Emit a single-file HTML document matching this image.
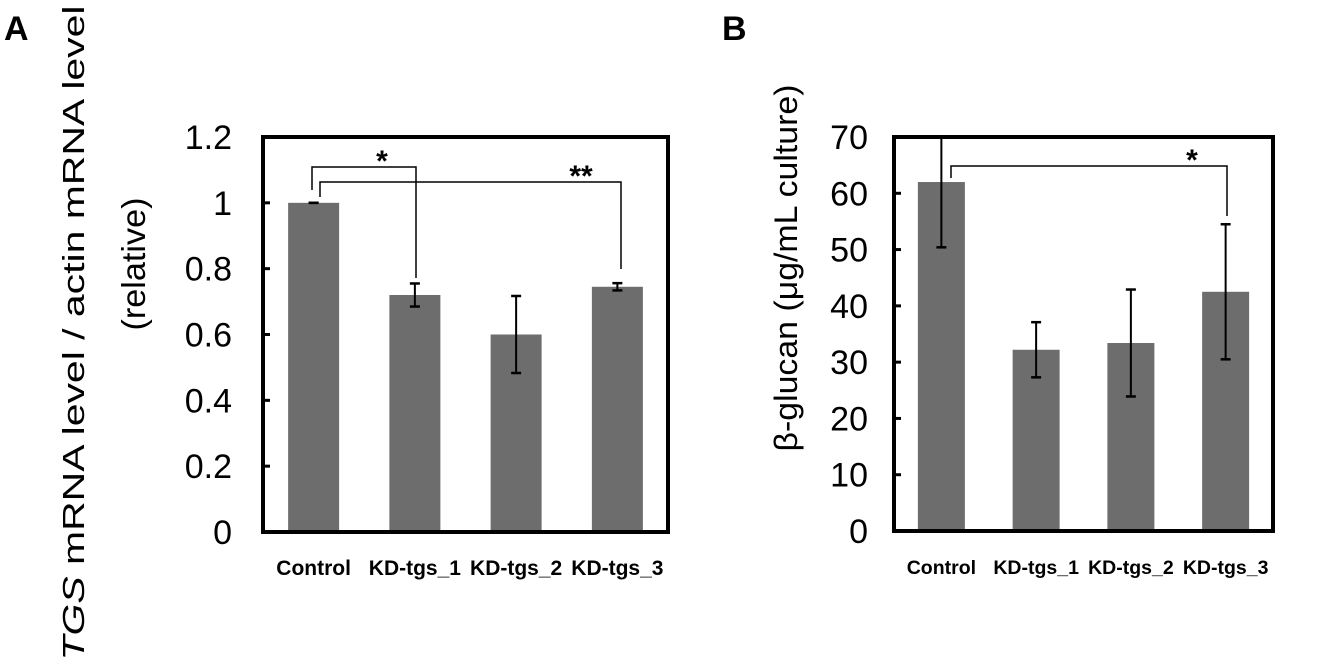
<!DOCTYPE html>
<html><head><meta charset="utf-8"><style>
html,body{margin:0;padding:0;background:#fff;}
svg{display:block;font-family:"Liberation Sans",Arial,sans-serif;}
</style></head><body>
<svg id="fig" width="1344" height="667" viewBox="0 0 1344 667">
<text x="4" y="40" font-size="34" font-weight="bold">A</text>
<text x="722" y="40" font-size="34" font-weight="bold">B</text>
<text transform="translate(84,333) rotate(-90)" text-anchor="middle" font-size="31" textLength="655" lengthAdjust="spacingAndGlyphs"><tspan font-style="italic">TGS</tspan> mRNA level / actin mRNA level</text>
<text transform="translate(145,264) rotate(-90)" text-anchor="middle" font-size="33" textLength="133" lengthAdjust="spacingAndGlyphs">(relative)</text>
<text transform="translate(797,268) rotate(-90)" text-anchor="middle" font-size="32" textLength="367" lengthAdjust="spacingAndGlyphs">β-glucan (μg/mL culture)</text>
<g id="ga"></g><g id="gb"></g>
</svg>
<script>
const categories = ["Control","KD-tgs_1","KD-tgs_2","KD-tgs_3"];
const valuesA = [1.0, 0.72, 0.60, 0.745];
const errorsA = [0.0, 0.035, 0.117, 0.011];
const ticksA = ["0","0.2","0.4","0.6","0.8","1","1.2"];
const valuesB = [62, 32.2, 33.4, 42.5];
const errorsB = [11.6, 4.9, 9.5, 12];
const ticksB = ["0","10","20","30","40","50","60","70"];
const NS="http://www.w3.org/2000/svg";
function mk(tag,attrs,parent){const e=document.createElementNS(NS,tag);for(const k in attrs)e.setAttribute(k,attrs[k]);parent.appendChild(e);return e;}

function panel(g,p,vals,errs,ticks,maxV,pfx,brackets){
  const y=v=>p.bottom-(v/maxV)*(p.bottom-p.top);
  const band=(p.right-p.left)/categories.length;
  const cx=i=>p.left+band*(i+0.5);
  const line=(x1,y1,x2,y2,w,name)=>{const l=mk('line',{x1,y1,x2,y2,stroke:'#000','stroke-width':w},g);
    
    return l;};
  vals.forEach((v,i)=>{
    const r=mk('rect',{x:cx(i)-p.bw/2,y:y(v),width:p.bw,height:p.bottom-y(v),fill:'#6e6d6d'},g);
    
    
  });
  const f=mk('rect',{x:p.left,y:p.top,width:p.right-p.left,height:p.bottom-p.top,fill:'none',stroke:'#000','stroke-width':4},g);
  
  
  ticks.forEach((t,i)=>{
    const v=parseFloat(t);
    line(p.left,y(v),p.left+7,y(v),3,pfx+'-y-tick');
    const tx=mk('text',{x:p.lx,y:y(v)+12,'text-anchor':'end','font-size':34},g);tx.textContent=t;
    
    
  });
  vals.forEach((v,i)=>{
    const hi=Math.min(v+errs[i],maxV), lo=v-errs[i], x=cx(i);
    line(x,y(hi),x,y(lo),2,pfx+'-error-bar');
    if(v+errs[i]<=maxV) line(x-5,y(hi),x+5,y(hi),2.5,pfx+'-error-cap-top');
    line(x-5,y(lo),x+5,y(lo),2.5,pfx+'-error-cap-bottom');
    const tl=mk('text',{x:x,y:p.bottom+43,'text-anchor':'middle','font-size':p.xf,'font-weight':'bold'},g);tl.textContent=categories[i];
    
    
  });
  brackets.forEach(b=>{
    const pl=mk('polyline',{points:`${b.x1},${b.y1} ${b.x1},${b.y} ${b.x2},${b.y} ${b.x2},${b.y2}`,fill:'none',stroke:'#000','stroke-width':1.5},g);
    
    
    const s=mk('text',{x:b.sx,y:b.y+4,'text-anchor':'middle','font-size':30,'font-weight':'bold'},g);s.textContent=b.s;
    
    
  });
}
panel(document.getElementById('ga'),{left:263,right:668,top:137,bottom:532,bw:51,lx:232,xf:21},valuesA,errorsA,ticksA,1.2,'panel-a',
 [{x1:312,y1:190,x2:416,y2:278,y:167,s:'*',sx:382},{x1:320,y1:197,x2:621,y2:269,y:182,s:'**',sx:581}]);
panel(document.getElementById('gb'),{left:894,right:1273,top:137,bottom:531,bw:47,lx:868,xf:19.5},valuesB,errorsB,ticksB,70,'panel-b',
 [{x1:951,y1:178,x2:1227,y2:216,y:166,s:'*',sx:1192}]);
</script>
</body></html>
